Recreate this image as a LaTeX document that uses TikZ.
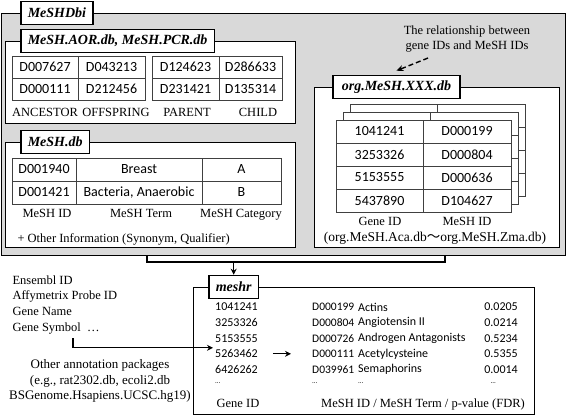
\documentclass[tikz,border=0pt]{standalone}
\usepackage{fontspec}
\setmainfont{Liberation Serif}
\newfontfamily\cellfont{Carlito}
\newfontfamily\cjkfont{Noto Sans CJK JP}
\usetikzlibrary{arrows.meta,positioning,calc}
\definecolor{panelgray}{gray}{0.85}

\begin{document}
\begin{tikzpicture}[
  x=1pt, y=-1pt, >=Stealth,
  every node/.style={font=\fontsize{12.5}{15}\selectfont},
  panel/.style={draw, line width=1.2pt, fill=panelgray, anchor=north west},
  dbframe/.style={draw, line width=1.3pt, fill=white, anchor=north west},
  dbtitle/.style={draw, line width=1.6pt, fill=white, anchor=west, inner xsep=7pt,
                  inner ysep=0pt, minimum height=23pt,
                  font=\fontsize{14}{16}\selectfont\bfseries\itshape},
  cell/.style={draw=black!75, line width=0.6pt, fill=white, inner sep=1pt,
               minimum height=23pt, font=\cellfont\fontsize{14}{16}\selectfont},
  colname/.style={text height=9pt, text depth=3pt},
  entry/.style={inner sep=2pt, anchor=west, font=\cellfont\fontsize{12}{14}\selectfont},
  dots/.style={inner sep=2pt, font=\cellfont\fontsize{7}{8}\selectfont},
  flow/.style={-{Stealth[length=6pt,width=6pt]}, line width=1.2pt},
  hint/.style={-{Stealth[length=7pt,width=6pt]}, line width=1.4pt, dash pattern=on 5pt off 3pt},
  link/.style={line width=1.3pt},
]
\useasboundingbox (0,0) rectangle (567,418);

% MeSHDbi panel
\node[panel, minimum width=564pt, minimum height=242pt] (dbi) at (1,13) {};
\node[dbtitle] (dbititle) at ($(dbi.north west)+(19,0)$) {MeSHDbi};

% MeSH.AOR.db / MeSH.PCR.db
\node[dbframe, minimum width=290pt, minimum height=82pt] (aor) at (5,41) {};
\node[dbtitle] (aortitle) at ($(aor.north west)+(15,0)$) {MeSH.AOR.db, MeSH.PCR.db};
\foreach \cx/\w/\ta/\tb [count=\i] in {45/66/D007627/D000111, 111.5/67/D043213/D212456,
                                      185.5/67/D124623/D231421, 250.5/63/D286633/D135314} {
  \node[cell, minimum width=\w pt, minimum height=22pt] (aor-\i-1) at (\cx,67) {\ta};
  \node[cell, minimum width=\w pt, minimum height=22pt] (aor-\i-2) at (\cx,89) {\tb};
}
\foreach \cx/\t [count=\i] in {45/ANCESTOR, 116/OFFSPRING, 187/PARENT, 258/CHILD}
  \node[colname] (aorname-\i) at (\cx,113) {\t};

% MeSH.db
\node[dbframe, minimum width=290pt, minimum height=105pt] (meshdb) at (5,142) {};
\node[dbtitle] (meshdbtitle) at ($(meshdb.north west)+(15,0)$) {MeSH.db};
\foreach \cx/\w/\ta/\tb [count=\i] in {44/64/D001940/D001421, 139/126/Breast/{Bacteria, Anaerobic},
                                      241.5/79/A/B} {
  \node[cell, minimum width=\w pt] (term-\i-1) at (\cx,169.5) {\ta};
  \node[cell, minimum width=\w pt] (term-\i-2) at (\cx,192.5) {\tb};
}
\foreach \cx/\t [count=\i] in {47/MeSH ID, 141/MeSH Term, 241/MeSH Category}
  \node[colname] (termname-\i) at (\cx,214) {\t};
\node[anchor=west] (otherinfo) at (14,239) {+ Other Information (Synonym, Qualifier)};

% org.MeSH.XXX.db
\node[dbframe, minimum width=245pt, minimum height=160pt] (org) at (314,87) {};
\node[dbtitle, inner xsep=9pt] (orgtitle) at ($(org.north west)+(18,0)$) {org.MeSH.XXX.db};
\foreach \k in {2,1}
  \foreach \r in {0,...,3} {
    \node[cell, minimum width=87pt] (page\k-\r-a) at (379.5+7*\k, 131.5+23*\r-8*\k) {};
    \node[cell, minimum width=88pt] (page\k-\r-b) at (467+7*\k, 131.5+23*\r-8*\k) {};
  }
\foreach \g/\m [count=\r from 0] in {1041241/D000199, 3253326/D000804,
                                     5153555/D000636, 5437890/D104627} {
  \node[cell, minimum width=87pt] (gene-\r) at (379.5, 131.5+23*\r) {\g};
  \node[cell, minimum width=88pt] (mesh-\r) at (467, 131.5+23*\r) {\m};
}
\node[colname] (orgname-1) at (380,222) {Gene ID};
\node[colname] (orgname-2) at (467,222) {MeSH ID};
\node[font=\fontsize{13.5}{16}\selectfont] (orgrange) at (435,238)
  {(org.MeSH.Aca.db{\cjkfont 〜}org.MeSH.Zma.db)};

\node[align=center] (note) at (467,39) {The relationship between\\gene IDs and MeSH IDs};
\coordinate (notefoot) at (428,58);
\draw[hint] (notefoot) -- ([yshift=4pt]orgtitle.north);

% meshr
\node[dbframe, minimum width=341pt, minimum height=127pt] (meshr) at (193,287) {};
\node[dbtitle] (meshrtitle) at ($(meshr.north west)+(15,0)$) {meshr};
\foreach \g [count=\r from 0] in {1041241,3253326,5153555,5263462,6426262}
  \node[entry] (gid-\r) at (213, 307+15.6*\r) {\g};
\foreach \m/\t/\p [count=\r from 0] in {D000199/Actins/0.0205, D000804/Angiotensin II/0.0214,
                                        D000726/Androgen Antagonists/0.5234,
                                        D000111/Acetylcysteine/0.5355, D039961/Semaphorins/0.0014} {
  \node[entry, font=\cellfont\fontsize{11.5}{14}\selectfont] (mid-\r) at (310, 307+15.6*\r) {\m};
  \node[entry] (name-\r) at (356, 307+15.6*\r) {\t};
  \node[entry, anchor=east] (pv-\r) at (520, 307+15.6*\r) {\p};
}
\node[dots, anchor=west] (dots-1) at (213,383) {...};
\node[dots, anchor=west] (dots-2) at (310,383) {...};
\node[dots, anchor=west] (dots-3) at (356,383) {...};
\node[dots, anchor=east] (dots-4) at (498,383) {...};
\node[colname] (meshrname-1) at (238,404) {Gene ID};
\node[colname] (meshrname-2) at (423,404) {MeSH ID / MeSH Term / p-value (FDR)};
\draw[flow, shorten <=13pt, shorten >=19pt] (gid-3.east) -- (mid-3.west);

% join into meshr
\coordinate (joinL) at (147,262);
\coordinate (joinR) at (445,262);
\draw[link] (joinL |- dbi.south) -- (joinL) -- (joinR) -- (joinR |- dbi.south);
\draw[flow] (joinL -| meshrtitle.north) -- (meshrtitle.north);

% other identifiers
\node[anchor=north west, align=left, font=\fontsize{12.5}{15.7}\selectfont] (idtypes) at (9,272)
  {Ensembl ID\\Affymetrix Probe ID\\Gene Name\\Gene Symbol~~…};
\coordinate (symfoot) at (73,338);
\draw[flow] (symfoot) |- ([yshift=6pt]gid-3.west);
\node[align=center, font=\fontsize{13}{15.8}\selectfont] (otherpkgs) at (100,381)
  {Other annotation packages\\(e.g., rat2302.db, ecoli2.db\\BSGenome.Hsapiens.UCSC.hg19)};
\end{tikzpicture}
\end{document}
